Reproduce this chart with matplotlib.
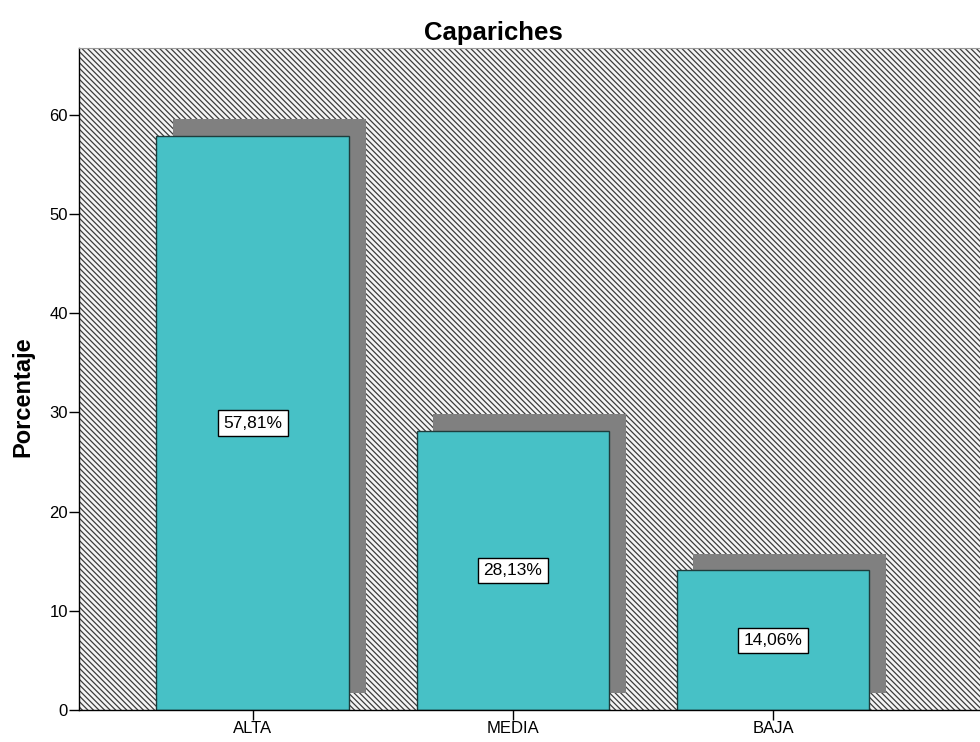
import matplotlib
matplotlib.use("Agg")
import matplotlib.pyplot as plt
from matplotlib.patches import Rectangle

plt.rcParams["font.family"] = ["Liberation Sans", "DejaVu Sans"]
plt.rcParams["hatch.linewidth"] = 0.9

# data
categories = ["ALTA", "MEDIA", "BAJA"]
percentages = [57.81, 28.13, 14.06]
labels = ["57,81%", "28,13%", "14,06%"]

bar_color = "#47c1c6"
shadow_color = "#808080"
bar_width = 0.742
shadow_dx = 0.065
shadow_dy = 1.7

fig = plt.figure(figsize=(9.8, 7.42), dpi=100)
ax = fig.add_axes([0.0806, 0.0431, 0.9194, 0.8922])

# hatched background
ax.set_facecolor("#f4f4f4")
bg = Rectangle((0, 0), 1, 1, transform=ax.transAxes, facecolor="#f4f4f4",
               edgecolor="#3c3c3c", hatch="\\" * 6, linewidth=0, zorder=0)
ax.add_patch(bg)

x = list(range(len(categories)))

# drop shadows
for xi, v in zip(x, percentages):
    ax.add_patch(Rectangle((xi - bar_width / 2 + shadow_dx, shadow_dy), bar_width, v,
                           facecolor=shadow_color, edgecolor="none", zorder=1))

ax.bar(x, percentages, width=bar_width, color=bar_color, edgecolor="#1e3c3c",
       linewidth=1, zorder=2)

for xi, v, lab in zip(x, percentages, labels):
    ax.text(xi, v / 2, lab, ha="center", va="center", fontsize=12.5, zorder=3,
            bbox=dict(boxstyle="square,pad=0.3", facecolor="white", edgecolor="black", linewidth=1))

ax.set_xlim(-0.669, 2.796)
ax.set_ylim(0, 66.7)
ax.set_xticks(x)
ax.set_xticklabels(categories)
ax.set_yticks([0, 10, 20, 30, 40, 50, 60])
ax.tick_params(axis="both", length=7, width=1, color="black", labelsize=12)
ax.tick_params(axis="y", pad=1)
ax.tick_params(axis="x", pad=1)

ax.spines["right"].set_visible(False)
ax.spines["top"].set_color("#999999")
ax.spines["left"].set_linewidth(1)
ax.spines["bottom"].set_linewidth(1)

ax.set_ylabel("Porcentaje", fontsize=17, fontweight="bold")
ax.yaxis.set_label_coords(-0.05, 0.474)
ax.set_title("Capariches", fontsize=18.5, fontweight="bold", pad=6, x=0.4595)

fig.savefig("out.png", dpi=100)
